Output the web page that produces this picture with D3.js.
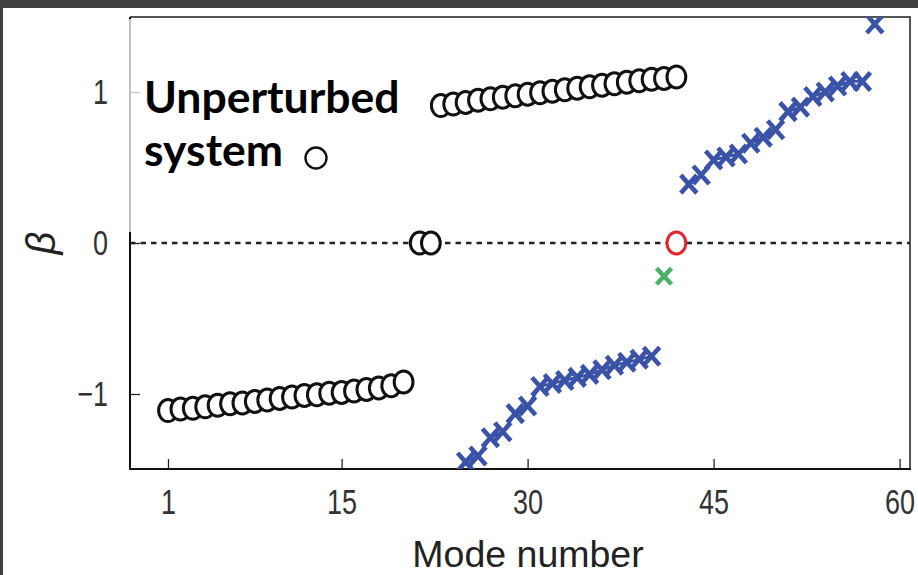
<!DOCTYPE html>
<html>
<head>
<meta charset="utf-8">
<script src="https://cdn.jsdelivr.net/npm/d3@7"></script>
<style>
  html, body { margin: 0; padding: 0; background: #ffffff; }
  svg { display: block; }
</style>
</head>
<body>
<svg id="chart" width="918" height="575"></svg>
<script>
// ---------------- data ----------------
const lowerModes = [1,2,3,4,5,6,7,8,9,10,11,12,13,14,15,16,17,18,19,20];
const lowerBeta  = [-1.11,-1.10,-1.095,-1.085,-1.075,-1.065,-1.06,-1.05,-1.04,-1.03,
                    -1.02,-1.01,-1.005,-0.995,-0.99,-0.98,-0.97,-0.96,-0.945,-0.92];
const zeroModes  = [21.3, 22.2];
const zeroBeta   = [0, 0];
const upperModes = [23,24,25,26,27,28,29,30,31,32,33,34,35,36,37,38,39,40,41,42];
const upperBeta  = [0.91,0.92,0.93,0.945,0.955,0.965,0.975,0.985,0.995,1.005,
                    1.015,1.025,1.035,1.045,1.055,1.065,1.075,1.085,1.09,1.10];
const redModes   = [42];
const redBeta    = [0];
const greenModes = [41];
const greenBeta  = [-0.22];
const blueAModes = [25,26,27,28,29,30,31,32,33,34,35,36,37,38,39,40];
const blueABeta  = [-1.45,-1.41,-1.29,-1.25,-1.13,-1.08,-0.95,-0.93,-0.91,-0.89,
                    -0.87,-0.84,-0.81,-0.79,-0.77,-0.75];
const blueBModes = [43,44,45,46,47,48,49,50,51,52,53,54,55,56,57];
const blueBBeta  = [0.39,0.45,0.55,0.57,0.59,0.66,0.70,0.75,0.87,0.90,0.97,1.00,1.04,1.07,1.07];
const blueCModes = [58];
const blueCBeta  = [1.45];
const xTicks = [1, 15, 30, 45, 60];
const yTicks = [-1, 0, 1];
const xTitle = "Mode number";
const yTitle = "β";
const legendLines = ["Unperturbed", "system"];

// ---------------- layout ----------------
const svg = d3.select("#chart");
const frame = {left: 130, right: 910, top: 17, bottom: 469};
const x = d3.scaleLinear().domain([1, 60]).range([168, 899.6]);
const y = d3.scaleLinear().domain([-1, 1]).range([394, 92]);
const blue = "#3a53a8";
const zip = (a, b) => a.map((v, i) => [v, b[i]]);
const tickFont = "'Liberation Sans', Arial, sans-serif";

// dark screenshot border
svg.append("rect").attr("x", 0).attr("y", 0).attr("width", 918).attr("height", 8).attr("fill", "#404040");
svg.append("rect").attr("x", 0).attr("y", 0).attr("width", 3).attr("height", 575).attr("fill", "#404040");

svg.append("defs").append("clipPath").attr("id", "clip")
  .append("rect").attr("x", frame.left).attr("y", frame.top)
  .attr("width", frame.right - frame.left).attr("height", frame.bottom - frame.top);

// frame: top & right
svg.append("path")
  .attr("d", `M${frame.left},${frame.top}H${frame.right}V${frame.bottom}`)
  .attr("fill", "none").attr("stroke", "#555").attr("stroke-width", 2);

// axes
const xAxis = d3.axisBottom(x).tickValues(xTicks).tickSize(-10).tickPadding(20);
const gx = svg.append("g").attr("transform", `translate(0,${frame.bottom})`).call(xAxis);
gx.select(".domain").remove();
gx.selectAll(".tick line").attr("stroke", "#222").attr("stroke-width", 1.3);
gx.selectAll(".tick text")
  .attr("font-family", tickFont).attr("font-size", 30).attr("fill", "#333")
  .attr("transform", "translate(0,20) scale(0.9,1.17) translate(0,-20)");
svg.append("line").attr("x1", frame.left).attr("x2", frame.right + 1)
  .attr("y1", frame.bottom).attr("y2", frame.bottom).attr("stroke", "#111").attr("stroke-width", 2.2);

const yAxis = d3.axisLeft(y).tickValues(yTicks).tickSize(-10).tickPadding(22)
  .tickFormat(d => d < 0 ? "\u2212" + Math.abs(d) : String(d));
const gy = svg.append("g").attr("transform", `translate(${frame.left},0)`).call(yAxis);
gy.select(".domain").remove();
gy.selectAll(".tick line").attr("stroke", "#222").attr("stroke-width", 1.3);
gy.selectAll(".tick text")
  .attr("font-family", tickFont).attr("font-size", 30).attr("fill", "#333")
  .attr("transform", "translate(-22,0) scale(0.9,1.17) translate(22,0)");
svg.append("line").attr("x1", frame.left).attr("x2", frame.left)
  .attr("y1", frame.top).attr("y2", frame.bottom + 1).attr("stroke", "#111").attr("stroke-width", 2);

// axis titles
svg.append("text").attr("x", 528).attr("y", 567).attr("text-anchor", "middle")
  .attr("font-family", tickFont).attr("font-size", 37.5).attr("fill", "#222")
  .text(xTitle);
svg.append("text").attr("transform", `translate(55,${y(0)}) rotate(-90)`)
  .attr("text-anchor", "middle")
  .attr("font-family", tickFont).attr("font-style", "italic")
  .attr("font-size", 40).attr("fill", "#222").text(yTitle);

const plot = svg.append("g").attr("clip-path", "url(#clip)");

// zero dashed line
plot.append("line").attr("x1", frame.left).attr("x2", frame.right)
  .attr("y1", y(0)).attr("y2", y(0))
  .attr("stroke", "#222").attr("stroke-width", 2.3).attr("stroke-dasharray", "5.5,5");

// blue lines + crosses
const line = d3.line().x(d => x(d[0])).y(d => y(d[1]));
[zip(blueAModes, blueABeta), zip(blueBModes, blueBBeta)].forEach(s => {
  plot.append("path").datum(s).attr("d", line)
    .attr("fill", "none").attr("stroke", blue).attr("stroke-width", 2.8);
});
function crosses(data, color, hw, hh, sw) {
  plot.append("g").selectAll("path").data(data).join("path")
    .attr("d", d => {
      const cx = x(d[0]), cy = y(d[1]);
      return `M${cx-hw},${cy-hh}L${cx+hw},${cy+hh}M${cx-hw},${cy+hh}L${cx+hw},${cy-hh}`;
    })
    .attr("fill", "none").attr("stroke", color).attr("stroke-width", sw);
}
crosses(zip(blueAModes, blueABeta), blue, 8, 9, 4.6);
crosses(zip(blueBModes, blueBBeta), blue, 8, 9, 4.6);
crosses(zip(blueCModes, blueCBeta), blue, 8, 9, 4.6);
crosses(zip(greenModes, greenBeta), "#4bb06a", 7.5, 8, 4.6);

// circles
function rings(data, color) {
  plot.append("g").selectAll("ellipse").data(data).join("ellipse")
    .attr("cx", d => x(d[0])).attr("cy", d => y(d[1]))
    .attr("rx", 9.4).attr("ry", 11)
    .attr("fill", "#fff").attr("stroke", color).attr("stroke-width", 3);
}
rings(zip(lowerModes, lowerBeta), "#111");
rings(zip(zeroModes, zeroBeta), "#111");
rings(zip(upperModes, upperBeta), "#111");
rings(zip(redModes, redBeta), "#e0262e");

// annotation box
svg.append("rect").attr("x", 126).attr("y", 19).attr("width", 286).attr("height", 213)
  .attr("fill", "#fff").attr("opacity", 0.75);
const tg = svg.append("g").attr("font-family", "Lato, 'Open Sans', sans-serif")
  .attr("font-weight", "bold").attr("font-size", 44.5).attr("fill", "#000");
tg.append("text").attr("x", 144).attr("y", 113).text(legendLines[0]);
tg.append("text").attr("x", 144).attr("y", 166).text(legendLines[1]);
svg.append("circle").attr("cx", 316).attr("cy", 158).attr("r", 10.5)
  .attr("fill", "#fff").attr("stroke", "#111").attr("stroke-width", 2.4);
</script>
</body>
</html>
